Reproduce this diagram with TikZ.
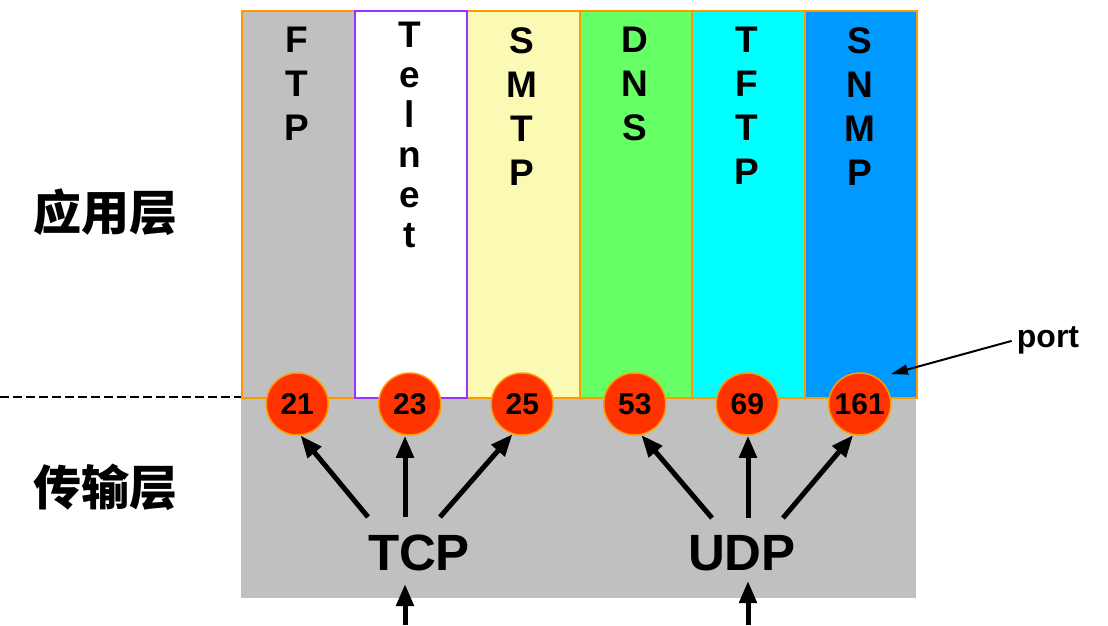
\documentclass[tikz,border=0pt]{standalone}
\usepackage{fontspec}
\setmainfont{Liberation Sans}
\newfontfamily\cjk{Noto Sans CJK SC}
\usetikzlibrary{arrows.meta}
\definecolor{orangeb}{HTML}{FF9900}
\definecolor{purpleb}{HTML}{9933FF}
\definecolor{grayf}{HTML}{C0C0C0}
\definecolor{yellowf}{HTML}{FAFAB4}
\definecolor{greenf}{HTML}{66FF66}
\definecolor{cyanf}{HTML}{00FFFF}
\definecolor{bluef}{HTML}{0099FF}
\definecolor{redf}{HTML}{FF3300}
\begin{document}
\begin{tikzpicture}[x=1pt,y=-1pt,
  colbox/.style={draw=orangeb, line width=2pt, minimum width=112.5pt, minimum height=387pt, inner sep=0pt, anchor=north west},
  letters/.style={font=\bfseries\fontsize{37}{44}\selectfont, align=center, anchor=north, inner sep=0pt},
  portcirc/.style={circle, fill=redf, draw=orangeb, line width=1.5pt, minimum size=62pt, inner sep=0pt, font=\bfseries\fontsize{30}{32}\selectfont},
  bigarrow/.style={line width=5pt, -{Triangle[length=22pt,width=17pt]}},
  proto/.style={font=\bfseries\fontsize{51}{53}\selectfont, anchor=base, inner sep=0pt},
  layer/.style={font=\cjk\bfseries\fontsize{48}{52}\selectfont, inner sep=0pt}]
\useasboundingbox (0,0) rectangle (1108,625);
% transport area
\node[fill=grayf, minimum width=675pt, minimum height=201pt, inner sep=0pt, anchor=north west] (trans) at (241,397) {};
\coordinate (dl) at (0,397);
\draw[line width=1.5pt, dash pattern=on 9pt off 4pt] (dl) -- (trans.north west);
% application columns
\node[colbox, fill=grayf] (ftp) at (241,10) {};
\node[colbox, fill=greenf] (dns) at (578.5,10) {};
\node[colbox, fill=yellowf] (smtp) at (466,10) {};
\node[colbox, fill=cyanf] (tftp) at (691,10) {};
\node[colbox, fill=bluef] (snmp) at (803.5,10) {};
\node[colbox, fill=white, draw=purpleb] (telnet) at (353.5,10) {};
% letters
\node[letters] (ftpl) at (297.25,27) {F\\T\\P};
\node[letters, font=\bfseries\fontsize{37}{40}\selectfont] (telnetl) at (409.75,22) {T\\e\\l\\n\\e\\t};
\node[letters] (smtpl) at (522.25,27) {S\\M\\T\\P};
\node[letters] (dnsl) at (634.75,27) {D\\N\\S};
\node[letters] (tftpl) at (747.25,27) {T\\F\\T\\P};
\node[letters] (snmpl) at (859.75,27) {S\\N\\M\\P};
% layer labels
\node[layer] (app) at (105,212) {应用层};
\node[layer] (tra) at (105,487) {传输层};
% ports
\node[portcirc] (c21) at (297.25,404) {21};
\node[portcirc] (c23) at (409.75,404) {23};
\node[portcirc] (c25) at (522.25,404) {25};
\node[portcirc] (c53) at (634.75,404) {53};
\node[portcirc] (c69) at (747.25,404) {69};
\node[portcirc] (c161) at (859.75,404) {161};
% protocols
\node[proto] (tcp) at (419,570) {TCP};
\node[proto] (udp) at (742,570) {UDP};
\coordinate (t1) at (368,517);
\coordinate (t2) at (405,517);
\coordinate (t3) at (440,517);
\coordinate (u1) at (712,518);
\coordinate (u2) at (748,518);
\coordinate (u3) at (783,518);
\draw[bigarrow] (t1) -- (c21.-84);
\draw[bigarrow] (t2) -- (t2 |- c23.south);
\draw[bigarrow] (t3) -- (c25.-108);
\draw[bigarrow] (u1) -- (c53.-78);
\draw[bigarrow] (u2) -- (u2 |- c69.south);
\draw[bigarrow] (u3) -- (c161.-102);
\coordinate (tb) at (405,625);
\coordinate (tt) at (405,584);
\coordinate (ub) at (748,625);
\coordinate (ut) at (748,581);
\draw[bigarrow] (tb) -- (tt);
\draw[bigarrow] (ub) -- (ut);
% port label
\node[font=\bfseries\fontsize{32}{34}\selectfont, anchor=base, inner sep=0pt] (port) at (1048,347) {port};
\coordinate (pt) at (891,374);
\draw[line width=2pt, -{Triangle[length=17pt,width=10pt]}] ([xshift=-5pt,yshift=-1pt]port.west) -- (pt);
\end{tikzpicture}
\end{document}
